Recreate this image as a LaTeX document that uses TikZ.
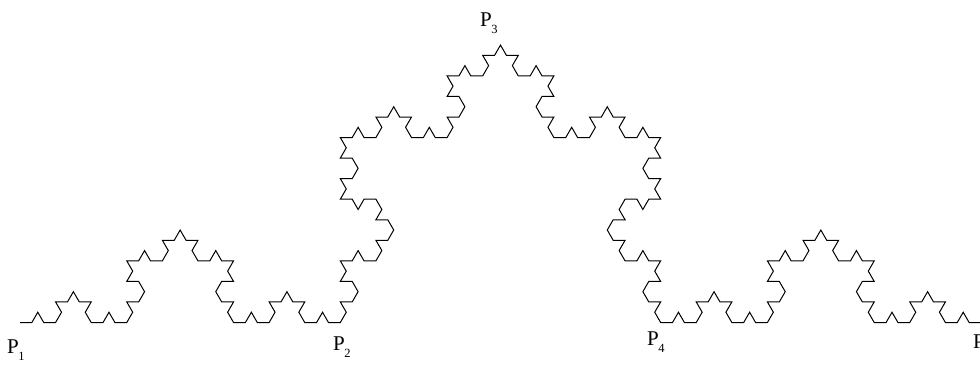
\documentclass[tikz,border=0pt]{standalone}
\usepackage{fontspec}
\setmainfont{Liberation Serif}
\newcommand{\plabel}[1]{P\kern-0.5pt\raisebox{-7pt}{\fontsize{12.5}{12.5}\selectfont #1}}
\tikzset{
  kochline/.style={line width=1pt, black, line join=miter},
  plab/.style={anchor=base west, inner sep=0pt, font=\fontsize{21}{21}\selectfont}
}
\begin{document}
\begin{tikzpicture}[x=1pt,y=1pt]
\useasboundingbox (0,0) rectangle (980,365);
\coordinate (start) at (20,42.5);
\draw[kochline] (start)
  \foreach \ta in {0,60,-60,0} {
    \foreach \tb in {0,60,-60,0} {
      \foreach \tc in {0,60,-60,0} {
        \foreach \td in {0,60,-60,0} { -- ++(\ta+\tb+\tc+\td:11.864) }
      }
    }
  };
\node[plab] (p1) at (7,12) {\plabel{1}};
\node[plab] (p2) at (333,15) {\plabel{2}};
\node[plab] (p3) at (480,338) {\plabel{3}};
\node[plab] (p4) at (647,20) {\plabel{4}};
\node[plab] (p5) at (973,17) {\plabel{5}};
\end{tikzpicture}
\end{document}
